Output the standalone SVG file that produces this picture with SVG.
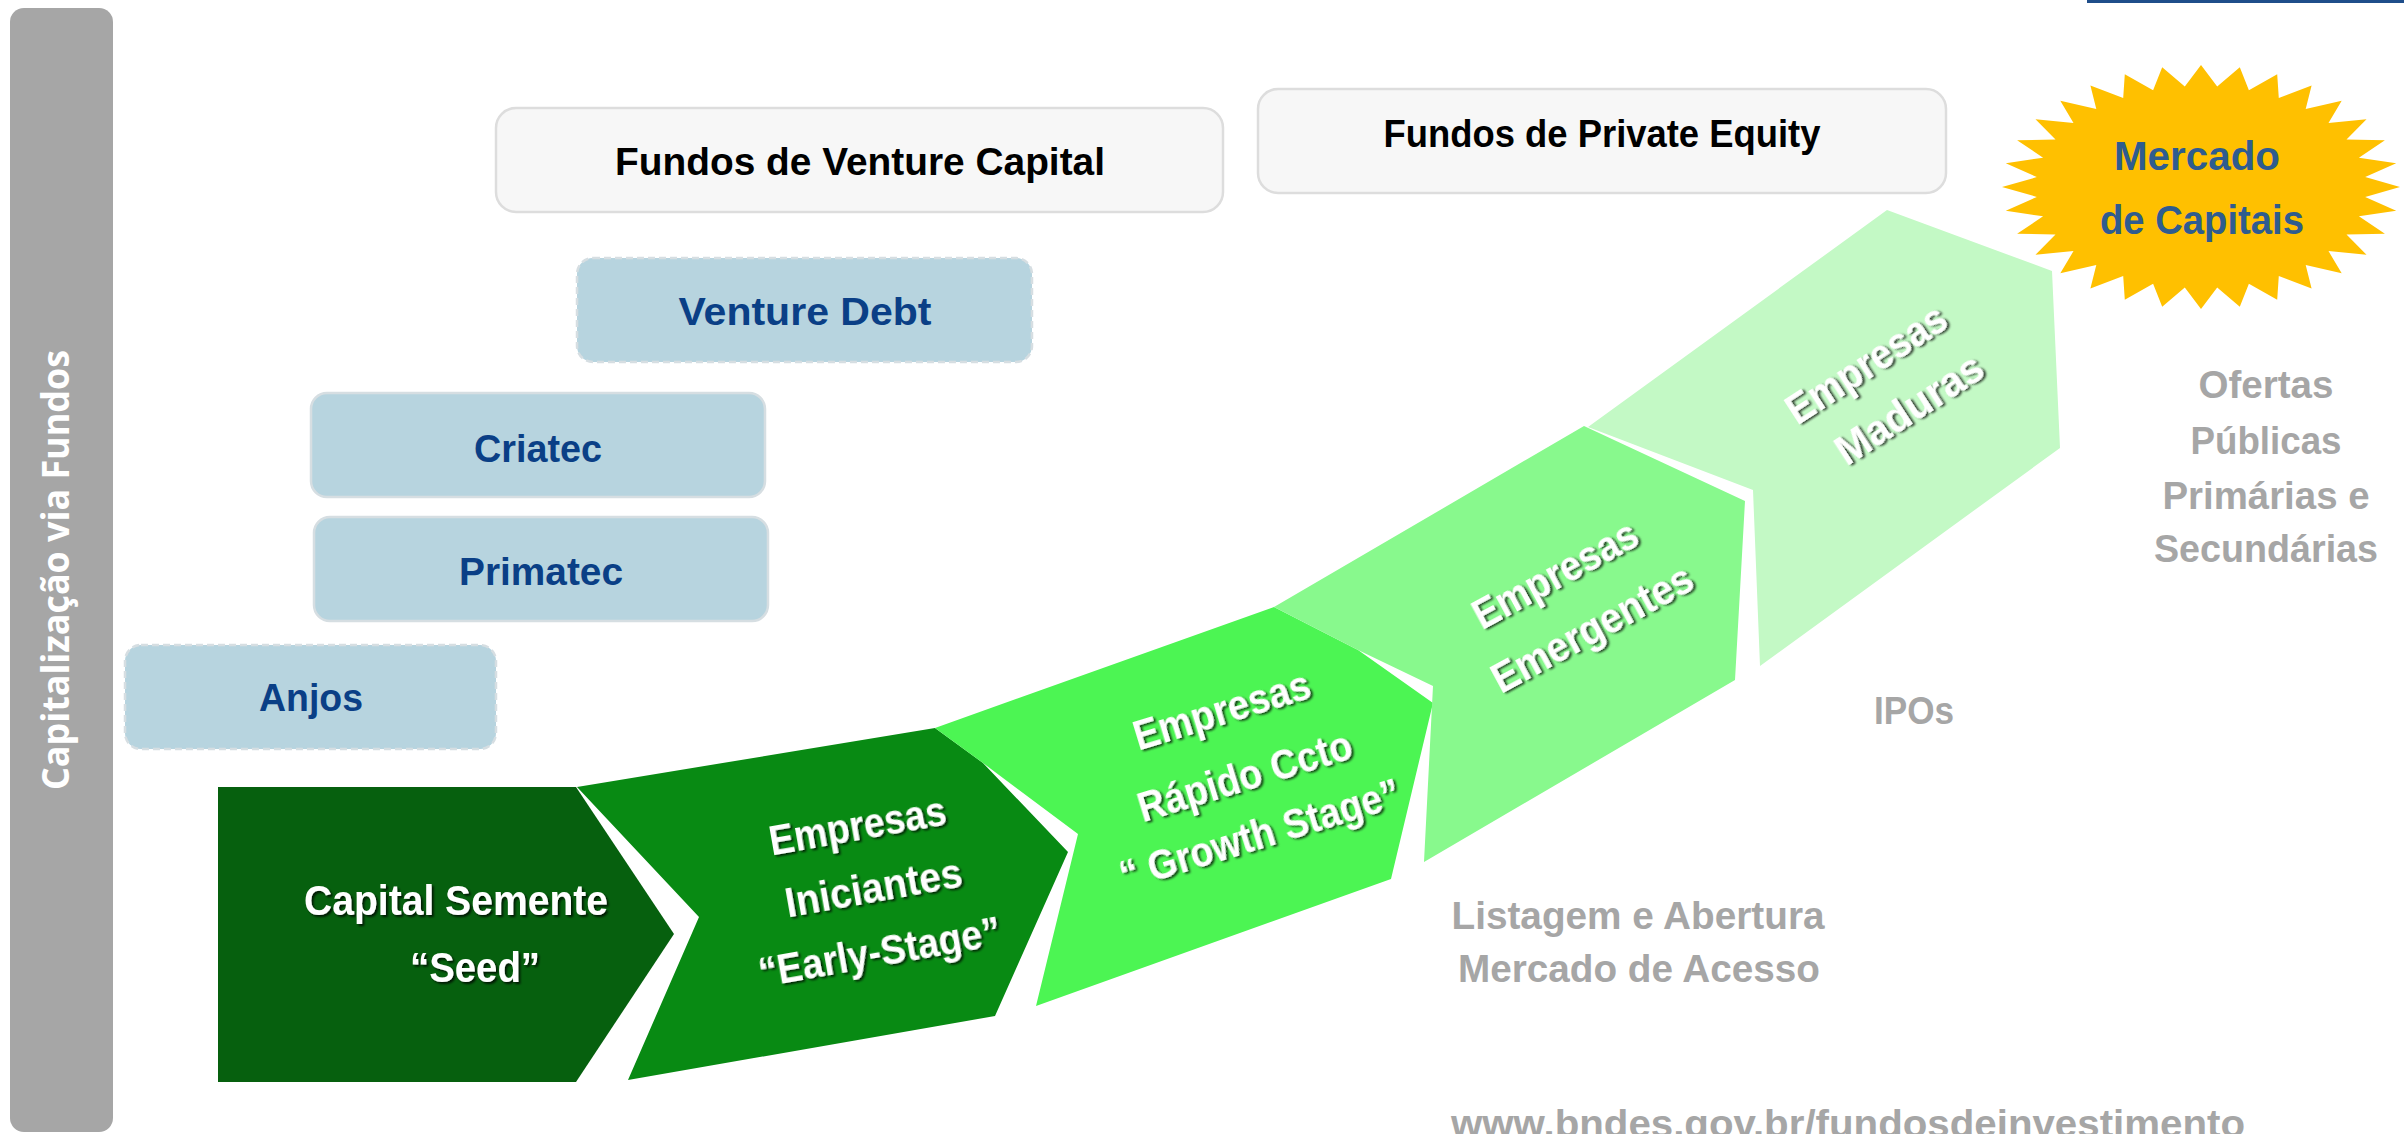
<svg xmlns="http://www.w3.org/2000/svg" width="2404" height="1134" viewBox="0 0 2404 1134">
<style>
.bg{fill:#FFFFFF}
.boxg{fill:#F7F7F7;stroke:#DDDDDD;stroke-width:2.5}
.boxb{fill:#B7D4DF;stroke:#D6DEE2;stroke-width:2.5}
.dash{stroke-dasharray:7 4}
.t{font-family:"Liberation Sans",Arial,sans-serif;font-weight:bold;font-size:39px;text-anchor:middle}
.blk{fill:#000000}
.blu{fill:#0A3F86}
.gry{fill:#A6A6A6}
.wht{fill:#FFFFFF;font-size:42px;filter:url(#sh)}
.mc{fill:#2F5C8F;font-size:40px}
</style>
<defs>
<filter id="sh" x="-10%" y="-30%" width="120%" height="160%">
<feDropShadow dx="2" dy="2" stdDeviation="1.2" flood-color="#000000" flood-opacity="0.75"/>
</filter>
</defs>
<rect class="bg" x="0" y="0" width="2404" height="1134"/>
<rect x="2087" y="0" width="317" height="3" fill="#1F4E8A"/>

<g id="side-bar">
<rect x="10" y="8" width="103" height="1124" rx="14" fill="#A6A6A6"/>
<text transform="translate(69,570) rotate(-90)" x="0" y="0" style="font-family:'Open Sans','Liberation Sans',sans-serif;font-weight:bold;font-size:38px;fill:#FFFFFF;text-anchor:middle" textLength="440" lengthAdjust="spacingAndGlyphs">Capitalização via Fundos</text>
</g>

<g id="fundos-vc">
<rect class="boxg" x="496" y="108" width="727" height="104" rx="20"/>
<text class="t blk" x="860" y="175" textLength="490" lengthAdjust="spacingAndGlyphs">Fundos de Venture Capital</text>
</g>
<g id="fundos-pe">
<rect class="boxg" x="1258" y="89" width="688" height="104" rx="20"/>
<text class="t blk" x="1602" y="147" textLength="437" lengthAdjust="spacingAndGlyphs">Fundos de Private Equity</text>
</g>

<g id="venture-debt">
<rect class="boxb dash" x="577" y="258" width="455" height="104" rx="16"/>
<text class="t blu" x="805" y="325" textLength="253" lengthAdjust="spacingAndGlyphs">Venture Debt</text>
</g>
<g id="criatec">
<rect class="boxb" x="311" y="393" width="454" height="104" rx="16"/>
<text class="t blu" x="538" y="462" textLength="128" lengthAdjust="spacingAndGlyphs">Criatec</text>
</g>
<g id="primatec">
<rect class="boxb" x="314" y="517" width="454" height="104" rx="16"/>
<text class="t blu" x="541" y="585" textLength="164" lengthAdjust="spacingAndGlyphs">Primatec</text>
</g>
<g id="anjos">
<rect class="boxb dash" x="125" y="645" width="371" height="104" rx="16"/>
<text class="t blu" x="311" y="711" textLength="104" lengthAdjust="spacingAndGlyphs">Anjos</text>
</g>

<g id="seed">
<polygon points="218,787 576,787 674,934 576,1082 218,1082" fill="#06600E"/>
<text class="t wht" x="456" y="915" textLength="304" lengthAdjust="spacingAndGlyphs">Capital Semente</text>
<text class="t wht" x="475" y="982" textLength="130" lengthAdjust="spacingAndGlyphs">“Seed”</text>
</g>

<g id="iniciantes">
<polygon points="577,787 935,728 983,763 1068,852 995,1016 628,1080 699,917" fill="#088A13"/>
<text class="t wht" x="860" y="840" transform="rotate(-10 860 840)" textLength="179" lengthAdjust="spacingAndGlyphs">Empresas</text>
<text class="t wht" x="876" y="902" transform="rotate(-10 876 902)" textLength="179" lengthAdjust="spacingAndGlyphs">Iniciantes</text>
<text class="t wht" x="882" y="966" transform="rotate(-10 882 966)" textLength="245" lengthAdjust="spacingAndGlyphs">“Early-Stage”</text>
</g>

<g id="rapido">
<polygon points="935,728 1274,607 1358,650 1433,703 1391,879 1036,1006 1078,834 983,763" fill="#4CF553"/>
<text class="t wht" x="1226" y="724" transform="rotate(-17 1226 724)" textLength="183" lengthAdjust="spacingAndGlyphs">Empresas</text>
<text class="t wht" x="1249" y="790" transform="rotate(-17 1249 790)" textLength="222" lengthAdjust="spacingAndGlyphs">Rápido Ccto</text>
<text class="t wht" x="1264" y="848" transform="rotate(-17 1264 848)" textLength="291" lengthAdjust="spacingAndGlyphs">“ Growth Stage”</text>
</g>

<g id="emergentes">
<polygon points="1274,607 1584,426 1745,501 1735,680 1424,862 1433,686 1358,650" fill="#88F98D"/>
<text class="t wht" x="1562" y="587" transform="rotate(-28.5 1562 587)" textLength="182" lengthAdjust="spacingAndGlyphs">Empresas</text>
<text class="t wht" x="1599" y="641" transform="rotate(-28.5 1599 641)" textLength="223" lengthAdjust="spacingAndGlyphs">Emergentes</text>
</g>

<g id="maduras">
<polygon points="1588,427 1887,210 2052,271 2060,448 1760,666 1753,490" fill="#C3F9C5"/>
<text class="t wht" x="1874" y="376" transform="rotate(-33 1874 376)" textLength="183" lengthAdjust="spacingAndGlyphs">Empresas</text>
<text class="t wht" x="1917" y="421" transform="rotate(-33 1917 421)" textLength="168" lengthAdjust="spacingAndGlyphs">Maduras</text>
</g>

<g id="mercado-capitais">
<polygon fill="#FFC000" points="2201,65 2217.2,86.5 2239.8,67.3 2248.9,90.3 2277.2,74.3 2278.8,97.9 2311.6,85.6 2305.7,108.9 2341.7,100.7 2328.5,122.9 2366.5,119.2 2346.5,139.4 2384.9,140.3 2358.9,157.7 2396.2,163.2 2365.2,177.1 2400,187 2365.2,196.9 2396.2,210.8 2358.9,216.3 2384.9,233.7 2346.5,234.6 2366.5,254.8 2328.5,251.1 2341.7,273.3 2305.7,265.1 2311.6,288.4 2278.8,276.1 2277.2,299.7 2248.9,283.7 2239.8,306.7 2217.2,287.5 2201,309 2184.8,287.5 2162.2,306.7 2153.1,283.7 2124.8,299.7 2123.2,276.1 2090.4,288.4 2096.3,265.1 2060.3,273.3 2073.5,251.1 2035.5,254.8 2055.5,234.6 2017.1,233.7 2043.1,216.3 2005.8,210.8 2036.8,196.9 2002,187 2036.8,177.1 2005.8,163.2 2043.1,157.7 2017.1,140.3 2055.5,139.4 2035.5,119.2 2073.5,122.9 2060.3,100.7 2096.3,108.9 2090.4,85.6 2123.2,97.9 2124.8,74.3 2153.1,90.3 2162.2,67.3 2184.8,86.5"/>
<text class="t mc" x="2197" y="170" textLength="166" lengthAdjust="spacingAndGlyphs">Mercado</text>
<text class="t mc" x="2202" y="234" textLength="204" lengthAdjust="spacingAndGlyphs">de Capitais</text>
</g>

<g id="ofertas">
<text class="t gry" x="2266" y="398" textLength="135" lengthAdjust="spacingAndGlyphs">Ofertas</text>
<text class="t gry" x="2266" y="454" textLength="151" lengthAdjust="spacingAndGlyphs">Públicas</text>
<text class="t gry" x="2266" y="509" textLength="207" lengthAdjust="spacingAndGlyphs">Primárias e</text>
<text class="t gry" x="2266" y="562" textLength="224" lengthAdjust="spacingAndGlyphs">Secundárias</text>
</g>
<g id="ipos">
<text class="t gry" x="1914" y="724" textLength="80" lengthAdjust="spacingAndGlyphs">IPOs</text>
</g>
<g id="listagem">
<text class="t gry" x="1638" y="929" textLength="373" lengthAdjust="spacingAndGlyphs">Listagem e Abertura</text>
<text class="t gry" x="1639" y="982" textLength="362" lengthAdjust="spacingAndGlyphs">Mercado de Acesso</text>
</g>
<g id="url">
<text class="t gry" x="1848" y="1137" textLength="794" lengthAdjust="spacingAndGlyphs">www.bndes.gov.br/fundosdeinvestimento</text>
</g>
</svg>
